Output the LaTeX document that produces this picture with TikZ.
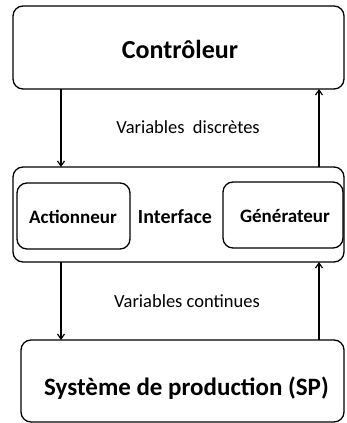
\documentclass[tikz,border=0pt]{standalone}
\usepackage{fontspec}
\setmainfont{Carlito}
\usetikzlibrary{arrows.meta}
\begin{document}
\begin{tikzpicture}[x=1pt,y=-1pt,
  box/.style={draw,line width=1.3pt,rounded corners=10pt},
  flow/.style={line width=1.2pt,-{Straight Barb[length=5pt,width=7pt]}},
  big/.style={anchor=base,inner sep=0pt,font=\bfseries\fontsize{26}{30}\selectfont},
  mid/.style={anchor=base,inner sep=0pt,font=\bfseries\fontsize{19}{22}\selectfont},
  lbl/.style={anchor=base,inner sep=0pt,font=\fontsize{18.5}{22}\selectfont}]
  \useasboundingbox (0,0) rectangle (346,423);
  % main blocks
  \node[box,minimum width=331pt,minimum height=83pt] (ctrl) at (178.5,47.5) {};
  \node[big] (ctxt) at (180,58) {Contrôleur};
  \node[box,minimum width=331pt,minimum height=95pt] (itf) at (178.5,214.5) {};
  \node[mid,font=\bfseries\fontsize{20}{24}\selectfont] (itxt) at (175,223) {Interface};
  \node[box,minimum width=113pt,minimum height=66pt] (act) at (73.5,216) {};
  \node[mid] (atxt) at (73,223) {Actionneur};
  \node[box,minimum width=120pt,minimum height=66pt] (gen) at (283,215) {};
  \node[mid] (gtxt) at (285,222) {Générateur};
  \node[box,minimum width=323pt,minimum height=82pt] (sp) at (182.5,381) {};
  \node[big,font=\bfseries\fontsize{25}{30}\selectfont] (stxt) at (186.5,395) {Système de production (SP)};
  % signal labels
  \node[lbl] (vd) at (188,133) {Variables~~discrètes};
  \node[lbl] (vc) at (187,307) {Variables continues};
  % connectors
  \coordinate (a1) at (61,89); \coordinate (a2) at (61,167);
  \coordinate (b1) at (319,167); \coordinate (b2) at (319,89);
  \coordinate (c1) at (61,262); \coordinate (c2) at (61,340);
  \coordinate (d1) at (319,340); \coordinate (d2) at (319,262);
  \draw[flow] (a1) -- (a2);
  \draw[flow] (b1) -- (b2);
  \draw[flow] (c1) -- (c2);
  \draw[flow] (d1) -- (d2);
\end{tikzpicture}
\end{document}
